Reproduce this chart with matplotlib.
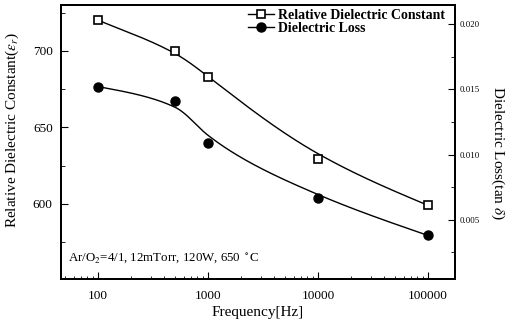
import matplotlib
matplotlib.use("Agg")
import matplotlib.pyplot as plt
import numpy as np

plt.rcParams["font.family"] = ["Liberation Serif", "DejaVu Serif"]
plt.rcParams["mathtext.fontset"] = "stix"

freq = [100, 500, 1000, 10000, 100000]
eps_r = [720, 700, 683, 629, 599]
tan_d = [0.0152, 0.0141, 0.0109, 0.0067, 0.0038]

x_ticks = [100, 1000, 10000, 100000]
x_labels = ["100", "1000", "10000", "100000"]
left_ticks = [600, 650, 700]
right_ticks = [0.005, 0.010, 0.015, 0.020]
right_labels = ["0.005", "0.010", "0.015", "0.020"]


def basis(i, k, t, knots):
    # Cox-de Boor recursion
    if k == 0:
        last = knots[i + 1] == knots[-1]
        hi = (t <= knots[i + 1]) if last else (t < knots[i + 1])
        return np.where((t >= knots[i]) & hi, 1.0, 0.0)
    out = np.zeros_like(t)
    d1 = knots[i + k] - knots[i]
    d2 = knots[i + k + 1] - knots[i + 1]
    if d1 > 0:
        out += (t - knots[i]) / d1 * basis(i, k - 1, t, knots)
    if d2 > 0:
        out += (knots[i + k + 1] - t) / d2 * basis(i + 1, k - 1, t, knots)
    return out


def bspline(lx, y, deg=3, n=400):
    # clamped B-spline using the points as control points
    m = len(lx)
    u = (lx - lx[0]) / (lx[-1] - lx[0])
    inner = [u[j:j + deg].mean() for j in range(1, m - deg)]
    knots = np.array([0.0] * (deg + 1) + inner + [1.0] * (deg + 1))
    t = np.linspace(0, 1, n)
    cx = sum(basis(i, deg, t, knots) * lx[i] for i in range(m))
    cy = sum(basis(i, deg, t, knots) * y[i] for i in range(m))
    return cx, cy


def pchip(lx, y, xs):
    # monotone cubic through the points
    h = np.diff(lx)
    d = np.diff(y) / h
    m = np.zeros_like(y)
    for k in range(1, len(y) - 1):
        if d[k - 1] * d[k] > 0:
            w1 = 2 * h[k] + h[k - 1]
            w2 = h[k] + 2 * h[k - 1]
            m[k] = (w1 + w2) / (w1 / d[k - 1] + w2 / d[k])
    m[0], m[-1] = d[0], d[-1]
    idx = np.clip(np.searchsorted(lx, xs) - 1, 0, len(h) - 1)
    t = (xs - lx[idx]) / h[idx]
    return ((2 * t**3 - 3 * t**2 + 1) * y[idx]
            + (t**3 - 2 * t**2 + t) * h[idx] * m[idx]
            + (-2 * t**3 + 3 * t**2) * y[idx + 1]
            + (t**3 - t**2) * h[idx] * m[idx + 1])


def trend(x, y, n=400, w=0.7):
    # smoothed trend line on log-frequency: mostly spline fit,
    # pulled a little toward the points
    lx = np.log10(np.asarray(x, float))
    y = np.asarray(y, float)
    xs = np.linspace(lx[0], lx[-1], n)
    bx, by = bspline(lx, y)
    ys = w * np.interp(xs, bx, by) + (1 - w) * pchip(lx, y, xs)
    return 10 ** xs, ys


fig = plt.figure(figsize=(5.08, 3.30), dpi=100)
ax = fig.add_axes([0.120, 0.155, 0.776, 0.830])
ax2 = ax.twinx()

ax.plot(*trend(freq, eps_r), color="black", lw=1.0)
ax.plot(freq, eps_r, ls="none", marker="s", ms=5.5, mfc="white",
        mec="black", mew=1.2)

ax2.plot(*trend(freq, tan_d), color="black", lw=1.0)
ax2.plot(freq, tan_d, ls="none", marker="o", ms=6.5, mfc="black", mec="black")

ax.set_xscale("log")
ax.set_xlim(46, 176000)
ax.set_ylim(551, 730)
ax2.set_ylim(0.00048, 0.02145)

ax.set_xticks(x_ticks)
ax.set_xticklabels(x_labels)
ax.set_yticks(left_ticks)
ax.set_yticks([575, 625, 675, 725], minor=True)
ax2.set_yticks(right_ticks)
ax2.set_yticklabels(right_labels)
ax2.set_yticks([0.0025, 0.0075, 0.0125, 0.0175], minor=True)

ax.tick_params(axis="both", which="both", direction="in", labelsize=9.5)
ax.tick_params(axis="x", which="major", length=5, pad=8)
ax.tick_params(axis="x", which="minor", length=2.5)
ax.tick_params(axis="y", which="major", length=5, pad=6)
ax.tick_params(axis="y", which="minor", length=3)
ax2.tick_params(axis="y", which="both", direction="in", labelsize=6.3, pad=3)
ax2.tick_params(axis="y", which="major", length=5)
ax2.tick_params(axis="y", which="minor", length=3)

for a in (ax, ax2):
    for s in a.spines.values():
        s.set_linewidth(1.4)

ax.set_xlabel("Frequency[Hz]", fontsize=11, labelpad=3)
ax.set_ylabel(r"Relative Dielectric Constant($\varepsilon_r$)", fontsize=11,
              va="center")
ax.yaxis.set_label_coords(-0.124, 0.544)
ax2.set_ylabel(r"Dielectric Loss(tan $\delta$)", fontsize=11, rotation=270,
               va="center")
ax2.yaxis.set_label_coords(1.107, 0.46)

ax.text(0.018, 0.065, r"Ar/O$_2$=4/1, 12mTorr, 120W, 650 $^\circ$C",
        transform=ax.transAxes, fontsize=9.3)

h1 = plt.Line2D([], [], color="black", lw=1.0, marker="s", ms=5.5,
                mfc="white", mec="black", mew=1.2)
h2 = plt.Line2D([], [], color="black", lw=1.0, marker="o", ms=6.5,
                mfc="black", mec="black")
ax2.legend([h1, h2], ["Relative Dielectric Constant", "Dielectric Loss"],
           loc="upper right", bbox_to_anchor=(1.0, 1.02), frameon=False,
           prop={"size": 10, "weight": "bold"}, handlelength=1.9,
           handletextpad=0.3, labelspacing=0.0, borderaxespad=0.3)

fig.savefig("out.png", dpi=100)
